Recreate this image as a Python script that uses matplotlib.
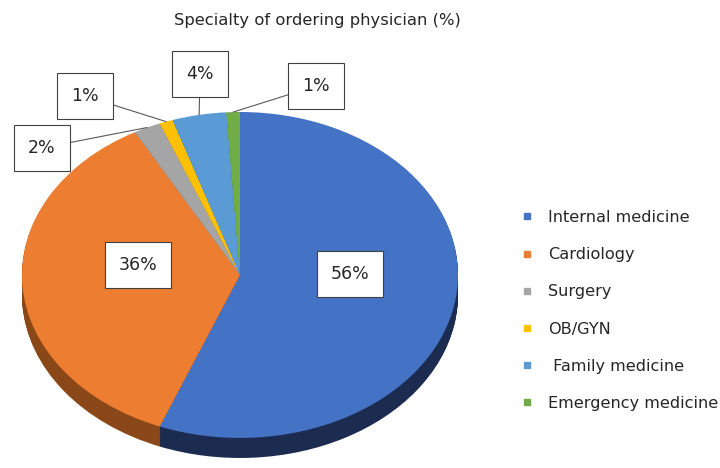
import numpy as np
import matplotlib.pyplot as plt
from matplotlib.lines import Line2D

title = 'Specialty of ordering physician (%)'
specialties = ['Internal medicine', 'Cardiology', 'Surgery', 'OB/GYN',
               ' Family medicine', 'Emergency medicine']
shares = [56, 36, 2, 1, 4, 1]
colors = ['#4472C4', '#ED7D31', '#A5A5A5', '#FFC000', '#5B9BD5', '#70AD47']
side_colors = ['#1c2c50', '#8a4818', '#6b6b6b', '#a67d00', '#3a6690', '#4a7230']

fig = plt.figure(figsize=(7.2, 4.68), dpi=100)
ax = fig.add_axes([22 / 720, 4 / 468, 436 / 720, 352 / 468])

# extruded side of the 3d pie: stack of darker pies pushed downward
depth = 0.123
for off in np.linspace(depth, 0.005, 25):
    ax.pie(shares, colors=side_colors, startangle=90, counterclock=False,
           radius=1, center=(0, -off), wedgeprops=dict(linewidth=0))

wedges, _ = ax.pie(shares, colors=colors, startangle=90, counterclock=False,
                   radius=1, center=(0, 0), wedgeprops=dict(linewidth=0))

ax.set_aspect('auto')
ax.set_xlim(-1, 1)
ax.set_ylim(-1.16, 1.0)
ax.axis('off')

box = dict(boxstyle='square,pad=0.8', fc='white', ec='#404040', lw=0.8)
txt_color = '#262626'

# large labels inside slices
fig.text(350 / 720, 1 - 274 / 468, f'{shares[0]}%', ha='center', va='center',
         fontsize=12.5, color=txt_color, bbox=box)
fig.text(138 / 720, 1 - 265 / 468, f'{shares[1]}%', ha='center', va='center',
         fontsize=12.5, color=txt_color, bbox=box)

# small slices with leader lines
label_pos = {2: (42, 148), 3: (85, 96), 4: (200, 74), 5: (316, 86)}
for i, (px, py) in label_pos.items():
    w = wedges[i]
    mid = np.deg2rad((w.theta1 + w.theta2) / 2)
    ax.annotate(f'{shares[i]}%', xy=(np.cos(mid), np.sin(mid)),
                xytext=(px / 720, 1 - py / 468), textcoords='figure fraction',
                ha='center', va='center', fontsize=12.5, color=txt_color,
                bbox=box,
                arrowprops=dict(arrowstyle='-', color='#595959', lw=0.8,
                                shrinkA=0, shrinkB=0))

fig.text(317 / 720, 1 - 21 / 468, title, ha='center', va='center',
         fontsize=11.8, color=txt_color)

handles = [Line2D([], [], marker='s', ms=5, ls='none', color=c) for c in colors]
fig.legend(handles, specialties, loc='center left',
           bbox_to_anchor=(519 / 720, 1 - 310.5 / 468), frameon=False,
           fontsize=11.6, handlelength=1, handletextpad=0.8, labelspacing=1.38,
           borderpad=0, borderaxespad=0, labelcolor=txt_color)

fig.savefig('out.png', dpi=100)
